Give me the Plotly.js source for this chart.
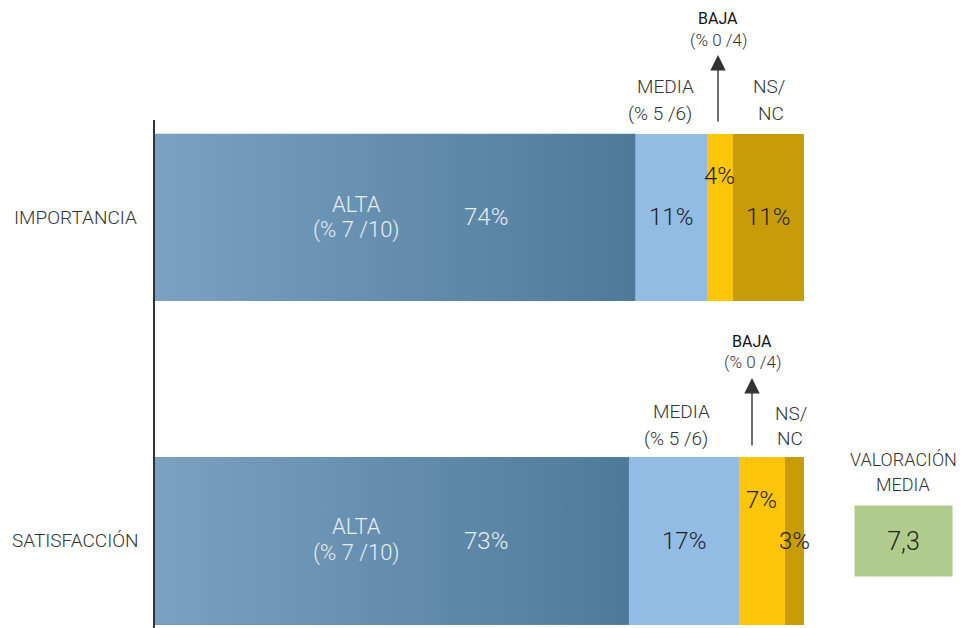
<!DOCTYPE html>
<html>
<head>
<meta charset="utf-8">
<script src="https://cdn.plot.ly/plotly-3.0.1.min.js"></script>
<style>html,body{margin:0;padding:0;background:#fff;}#chart{width:965px;height:628px;}</style>
</head>
<body>
<div id="chart"></div>
<script>
// ---- data ----
const categories = ['SATISFACCIÓN', 'IMPORTANCIA'];
const alta  = [73, 74];   // ALTA (% 7/10)
const media = [17, 11];   // MEDIA (% 5/6)
const baja  = [7, 4];     // BAJA (% 0/4)
const nsnc  = [3, 11];    // NS/NC
const valoracionMedia = 7.3;

// ---- layout helpers ----
const W = 965, H = 628, L = 155, R = 161, T = 120, B = 0;
const pw = W - L - R, ph = H - T - B;
const px2x = p => (p - L) / pw;
const py2y = p => (H - B - p) / ph;
const FONT = 'Roboto, "DejaVu Sans", sans-serif';
const barW = 0.517;
const yIdx = categories.map((c, i) => i);

const cAlta = '#6890b0', cMedia = '#93bce4', cBaja = '#fdc60b', cNs = '#c79c08';

const traces = [
  {type: 'bar', orientation: 'h', y: yIdx, x: alta, width: barW, marker: {color: cAlta}, hoverinfo: 'skip', showlegend: false},
  {type: 'bar', orientation: 'h', y: yIdx, x: media, width: barW, marker: {color: cMedia}, hoverinfo: 'skip', showlegend: false},
  {type: 'bar', orientation: 'h', y: yIdx, x: baja, width: barW, marker: {color: cBaja}, hoverinfo: 'skip', showlegend: false},
  {type: 'bar', orientation: 'h', y: yIdx, x: nsnc, width: barW, marker: {color: cNs}, hoverinfo: 'skip', showlegend: false}
];
// gradient overlay for ALTA segments
alta.forEach((v, i) => {
  const h = barW / 2;
  traces.push({
    type: 'scatter', mode: 'lines', x: [0, v, v, 0, 0], y: [i - h, i - h, i + h, i + h, i - h],
    fill: 'toself', line: {width: 0},
    fillgradient: {type: 'horizontal', start: 0, stop: v, colorscale: [[0, '#7ba1c1'], [1, '#4e7a9a']]},
    hoverinfo: 'skip', showlegend: false
  });
});

const ann = [];
function txt(text, px, py, size, color, weight) {
  ann.push({
    text: text, xref: 'paper', yref: 'paper', x: px2x(px), y: py2y(py),
    xanchor: 'center', yanchor: 'middle', showarrow: false,
    font: {family: FONT, size: size, color: color, weight: weight || 300}
  });
}
// category labels
categories.forEach((c, i) => {
  ann.push({text: c, xref: 'paper', yref: 'y', x: px2x(75), y: i, xanchor: 'center', yanchor: 'middle',
    showarrow: false, font: {family: FONT, size: 19, color: '#333', weight: 300}});
});
// segment value labels
const dark = '#1e1e1e';
alta.forEach((v, i) => {
  const a = alta[i], m = media[i], b = baja[i], n = nsnc[i];
  const mk = (val, x, col, ys) => ann.push({text: val + '%', xref: 'x', yref: 'y', x: x, y: i, yshift: ys || 0,
    xanchor: 'center', yanchor: 'middle', showarrow: false, font: {family: FONT, size: 24, color: col, weight: 300}});
  mk(a, 51, '#e8eef4');
  mk(m, a + m / 2, dark);
  mk(b, a + m + b / 2, dark, 41);
  mk(n, a + m + b + n / 2, dark);
});
// ALTA labels
txt('ALTA', 356, 204, 22, '#e8eef4');
txt('(% 7 /10)', 356, 230, 22, '#e8eef4');
txt('ALTA', 356, 526, 22, '#e8eef4');
txt('(% 7 /10)', 356, 553, 22, '#e8eef4');
// top group
txt('BAJA', 718, 19, 16, '#111', 400);
txt('(% 0 /4)', 718, 40, 17, '#333');
txt('MEDIA', 665, 87, 19, '#333');
txt('(% 5 /6)', 660, 113, 19, '#333');
txt('NS/', 769, 87, 19, '#333');
txt('NC', 771, 113, 19, '#333');
// bottom group
txt('BAJA', 752, 341, 16, '#111', 400);
txt('(% 0 /4)', 752, 362, 17, '#333');
txt('MEDIA', 681, 411, 19, '#333');
txt('(% 5 /6)', 676, 438, 19, '#333');
txt('NS/', 791, 413, 19, '#333');
txt('NC', 790, 438, 19, '#333');
// valoración media
txt('VALORACIÓN', 903, 460, 18, '#333');
txt('MEDIA', 903, 484, 18, '#333');
ann.push({text: valoracionMedia.toFixed(1).replace('.', ','), xref: 'paper', yref: 'paper', x: px2x(903.5), y: py2y(541),
  xanchor: 'center', yanchor: 'middle', showarrow: false, width: 97, height: 70, bgcolor: '#b0cc8c', borderpad: 0,
  font: {family: FONT, size: 25, color: '#222', weight: 300}});
// arrows
[[718, 55, 68], [752, 378, 69]].forEach(a => {
  ann.push({text: '', xref: 'paper', yref: 'paper', x: px2x(a[0]), y: py2y(a[1]), ax: 0, ay: a[2],
    showarrow: true, arrowhead: 2, arrowsize: 2.2, arrowwidth: 1.4, arrowcolor: '#333', standoff: 0});
});

const layout = {
  width: W, height: H,
  margin: {l: L, r: R, t: T, b: B, pad: 0},
  paper_bgcolor: '#fff', plot_bgcolor: '#fff',
  barmode: 'stack', bargap: 0,
  showlegend: false,
  xaxis: {range: [0, 100], visible: false, showgrid: false, zeroline: false, fixedrange: true},
  yaxis: {range: [-0.269, 1.301], showgrid: false, zeroline: false, showticklabels: false, ticks: '',
    showline: true, linecolor: '#333', linewidth: 1.6, fixedrange: true},
  annotations: ann
};
Plotly.newPlot('chart', traces, layout, {displayModeBar: false, staticPlot: true});
</script>
</body>
</html>
